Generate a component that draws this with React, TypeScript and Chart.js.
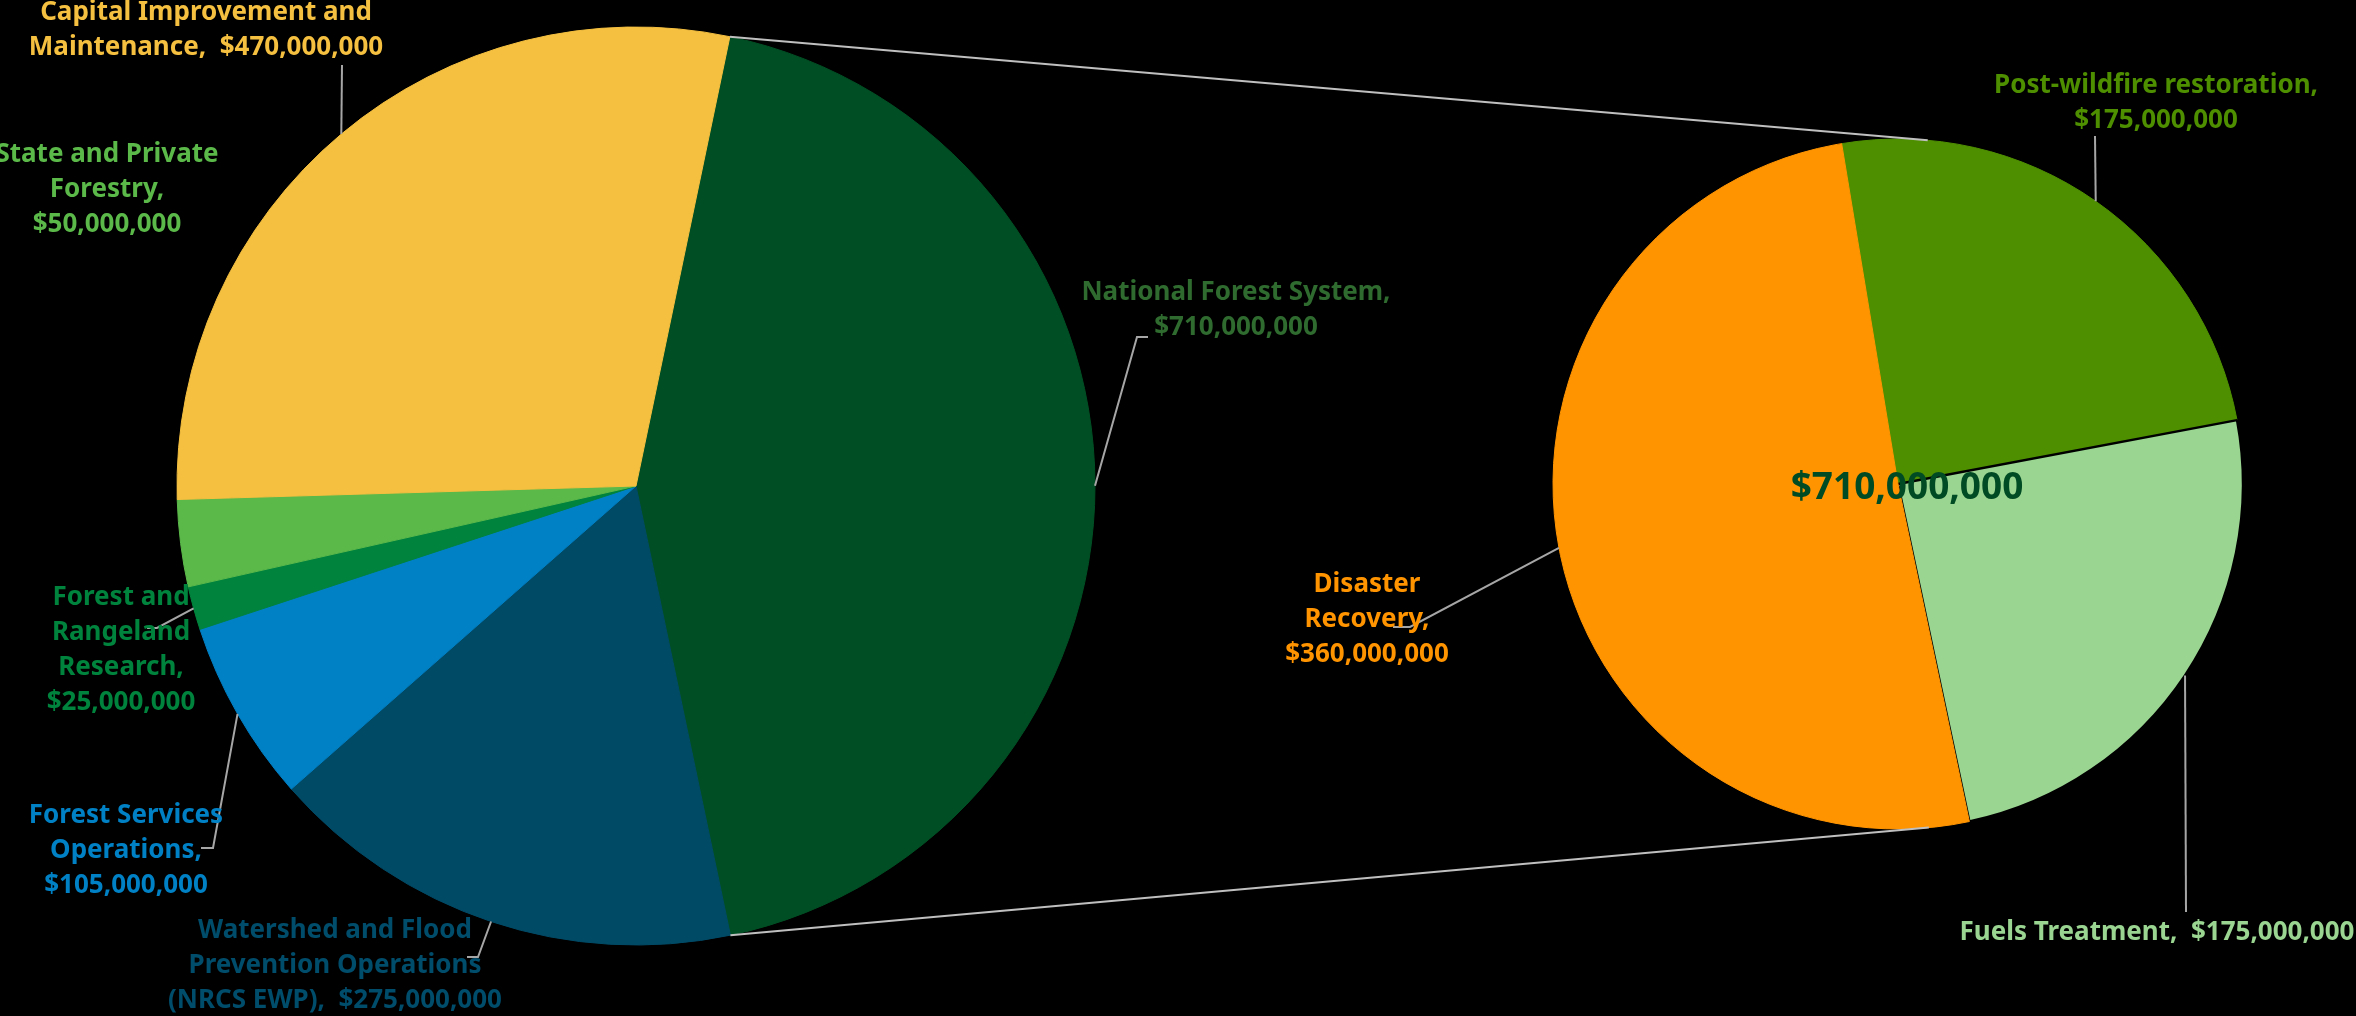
import { useEffect, useRef } from 'react';
import { Chart, registerables } from 'chart.js';

Chart.register(...registerables);

const W = 2356;
const H = 1016;

// ---- Data ----
const mainCategories = [
  'National Forest System',
  'Watershed and Flood Prevention Operations (NRCS EWP)',
  'Forest Services Operations',
  'Forest and Rangeland Research',
  'State and Private Forestry',
  'Capital Improvement and Maintenance',
];
const mainValues = [710000000, 275000000, 105000000, 25000000, 50000000, 470000000];
const mainColors = ['#004F24', '#004A66', '#0080C5', '#00843D', '#5BB94A', '#F5C040'];
const mainLabelColors = ['#2F6B2F', '#004C6B', '#0080C5', '#00843D', '#5BB94A', '#F5C040'];

const subCategories = ['Post-wildfire restoration', 'Fuels Treatment', 'Disaster Recovery'];
const subValues = [175000000, 175000000, 360000000];
const subColors = ['#4E8F00', '#9AD591', '#FF9400'];
const subLabelColors = ['#4E8F00', '#9AD591', '#FF9400'];

// label text templates ({v} = formatted value)
const mainLabelLines = [
  ['National Forest System,', '{v}'],
  ['Watershed and Flood', 'Prevention Operations', '(NRCS EWP),  {v}'],
  ['Forest Services', 'Operations,', '{v}'],
  ['Forest and', 'Rangeland', 'Research,', '{v}'],
  ['State and Private', 'Forestry,', '{v}'],
  ['Capital Improvement and', 'Maintenance,  {v}'],
];
const subLabelLines = [
  ['Post-wildfire restoration,', '{v}'],
  ['Fuels Treatment,  {v}'],
  ['Disaster', 'Recovery,', '{v}'],
];

// ---- Layout (positions / styles) ----
const FONT = 'bold 26px "Noto Sans", "Open Sans", sans-serif';
const CENTER_FONT = 'bold 37px "Noto Sans", "Open Sans", sans-serif';
const LINE_H = 35;
const LEADER_COLOR = '#A6A6A6';
const CONNECTOR_COLOR = '#BFBFBF';

type LabelLayout = { x: number; y: number; leader?: number[][] };

const mainLayout: LabelLayout[] = [
  { x: 1236, y: 293, leader: [[1137, 337], [1148, 337]] },
  { x: 335, y: 931, leader: [[478, 957], [467, 957]] },
  { x: 126, y: 816, leader: [[213, 848], [201, 848]] },
  { x: 121, y: 598, leader: [[157, 628], [147, 628]] },
  { x: 107, y: 155 },
  { x: 206, y: 13, leader: [[342, 65]] },
];
const subLayout: LabelLayout[] = [
  { x: 2156, y: 86, leader: [[2095, 136]] },
  { x: 2157, y: 933, leader: [[2186, 912]] },
  { x: 1367, y: 585, leader: [[1410, 627], [1393, 627]] },
];

const fmt = (v: number) => '$' + v.toLocaleString('en-US');

function drawLabels(chart: any, layout: LabelLayout[], lines: string[][], values: number[], colors: string[]) {
  const ctx: CanvasRenderingContext2D = chart.ctx;
  const meta = chart.getDatasetMeta(0);
  ctx.save();
  meta.data.forEach((arc: any, i: number) => {
    const L = layout[i];
    if (!L) return;
    const p = arc.getProps(['x', 'y', 'startAngle', 'endAngle', 'outerRadius'], true);
    const mid = (p.startAngle + p.endAngle) / 2;
    if (L.leader) {
      ctx.beginPath();
      ctx.moveTo(p.x + p.outerRadius * Math.cos(mid), p.y + p.outerRadius * Math.sin(mid));
      L.leader.forEach(([px, py]) => ctx.lineTo(px, py));
      ctx.strokeStyle = LEADER_COLOR;
      ctx.lineWidth = 2;
      ctx.stroke();
    }
    ctx.font = FONT;
    ctx.fillStyle = colors[i];
    ctx.textAlign = 'center';
    ctx.textBaseline = 'middle';
    lines[i].forEach((t, k) => {
      ctx.fillText(t.replace('{v}', fmt(values[i])), L.x, L.y + k * LINE_H);
    });
  });
  ctx.restore();
}

function tangentPoint(px: number, py: number, cx: number, cy: number, r: number, upper: boolean) {
  const dx = px - cx;
  const dy = py - cy;
  const d = Math.hypot(dx, dy);
  const phi = Math.atan2(dy, dx);
  const a = Math.acos(r / d);
  const t1 = { x: cx + r * Math.cos(phi + a), y: cy + r * Math.sin(phi + a) };
  const t2 = { x: cx + r * Math.cos(phi - a), y: cy + r * Math.sin(phi - a) };
  if (upper) return t1.y < t2.y ? t1 : t2;
  return t1.y > t2.y ? t1 : t2;
}

export default function App() {
  const ref1 = useRef<HTMLCanvasElement>(null);
  const ref2 = useRef<HTMLCanvasElement>(null);

  useEffect(() => {
    document.documentElement.style.background = '#000';
    document.body.style.margin = '0';
    document.body.style.background = '#000';

    const mainPlugin = {
      id: 'mainLabels',
      afterDatasetsDraw(chart: any) {
        drawLabels(chart, mainLayout, mainLabelLines, mainValues, mainLabelColors);
      },
    };

    const c1 = new Chart(ref1.current as HTMLCanvasElement, {
      type: 'pie',
      data: {
        labels: mainCategories,
        datasets: [
          {
            data: mainValues,
            backgroundColor: mainColors,
            borderColor: mainColors,
            borderWidth: 1,
            hoverOffset: 0,
            offset: 0,
            rotation: 11.8,
          } as any,
        ],
      },
      options: {
        responsive: false,
        animation: false,
        events: [],
        radius: 459,
        rotation: 11.8,
        layout: { padding: { left: 177, top: 27, right: W - 1095, bottom: H - 945 } },
        plugins: { legend: { display: false }, tooltip: { enabled: false } },
      } as any,
      plugins: [mainPlugin],
    });

    const subPlugin = {
      id: 'subLabels',
      afterDatasetsDraw(chart: any) {
        const ctx: CanvasRenderingContext2D = chart.ctx;
        const arc2 = chart.getDatasetMeta(0).data[0].getProps(['x', 'y', 'outerRadius'], true);
        const nfs = c1.getDatasetMeta(0).data[0] as any;
        const p = nfs.getProps(['x', 'y', 'startAngle', 'endAngle', 'outerRadius'], true);
        const pTop = { x: p.x + p.outerRadius * Math.cos(p.startAngle), y: p.y + p.outerRadius * Math.sin(p.startAngle) };
        const pBot = { x: p.x + p.outerRadius * Math.cos(p.endAngle), y: p.y + p.outerRadius * Math.sin(p.endAngle) };
        const tTop = tangentPoint(pTop.x, pTop.y, arc2.x, arc2.y, arc2.outerRadius, true);
        const tBot = tangentPoint(pBot.x, pBot.y, arc2.x, arc2.y, arc2.outerRadius, false);
        ctx.save();
        ctx.strokeStyle = CONNECTOR_COLOR;
        ctx.lineWidth = 2;
        ctx.beginPath();
        ctx.moveTo(pTop.x, pTop.y);
        ctx.lineTo(tTop.x, tTop.y);
        ctx.moveTo(pBot.x, pBot.y);
        ctx.lineTo(tBot.x, tBot.y);
        ctx.stroke();
        ctx.restore();

        drawLabels(chart, subLayout, subLabelLines, subValues, subLabelColors);

        // centre label: the broken-out total
        const total = subValues.reduce((a, b) => a + b, 0);
        ctx.save();
        ctx.font = CENTER_FONT;
        ctx.fillStyle = '#004B23';
        ctx.textAlign = 'center';
        ctx.textBaseline = 'middle';
        ctx.fillText(fmt(total), arc2.x + 9, arc2.y + 4);
        ctx.restore();
      },
    };

    const c2 = new Chart(ref2.current as HTMLCanvasElement, {
      type: 'pie',
      data: {
        labels: subCategories,
        datasets: [
          {
            data: subValues,
            backgroundColor: subColors,
            borderColor: ['#4E8F00', '#000000', '#FF9400'],
            borderWidth: [1, 2.5, 1],
            hoverOffset: 0,
            offset: 0,
            rotation: -9.4,
          } as any,
        ],
      },
      options: {
        responsive: false,
        animation: false,
        events: [],
        radius: 345,
        rotation: -9.4,
        layout: { padding: { left: 1553, top: 139, right: W - 2243, bottom: H - 829 } },
        plugins: { legend: { display: false }, tooltip: { enabled: false } },
      } as any,
      plugins: [subPlugin],
    });

    return () => {
      c2.destroy();
      c1.destroy();
    };
  }, []);

  return (
    <div style={{ position: 'relative', width: W, height: H, background: '#000', overflow: 'hidden' }}>
      <canvas ref={ref1} width={W} height={H} style={{ position: 'absolute', left: 0, top: 0, width: W, height: H }} />
      <canvas ref={ref2} width={W} height={H} style={{ position: 'absolute', left: 0, top: 0, width: W, height: H }} />
    </div>
  );
}
